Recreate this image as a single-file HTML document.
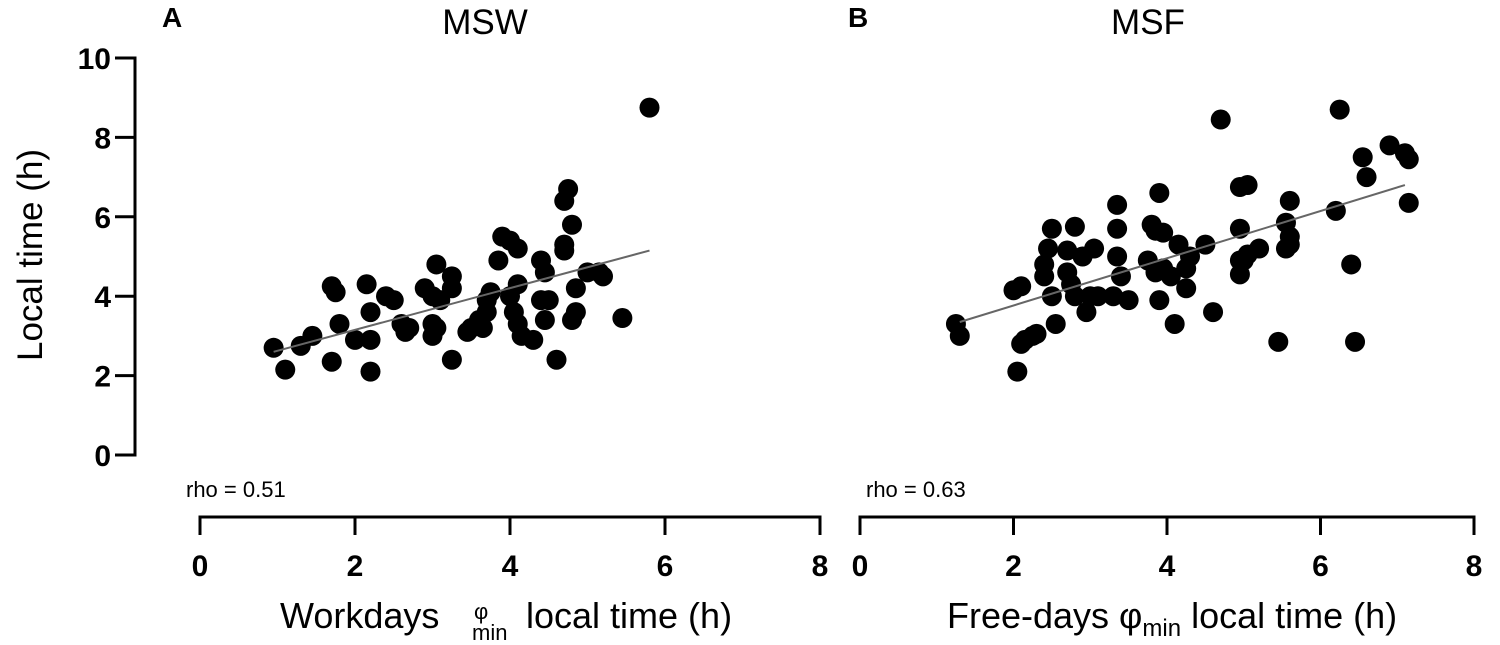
<!DOCTYPE html>
<html><head><meta charset="utf-8"><style>
body{margin:0;background:#fff;}
svg{display:block;font-family:"Liberation Sans",Arial,sans-serif;}
</style></head><body>
<svg id="c" width="1500" height="645">
<text x="162" y="27" font-size="28" font-weight="bold">A</text>
<text x="485" y="34" font-size="35" text-anchor="middle">MSW</text>
<text x="848" y="27" font-size="28" font-weight="bold">B</text>
<text x="1148" y="34" font-size="35" text-anchor="middle">MSF</text>
<text transform="translate(42,255) rotate(-90)" font-size="35" text-anchor="middle">Local time (h)</text>
<text x="186" y="497" font-size="22">rho = 0.51</text>
<text x="866" y="497" font-size="22">rho = 0.63</text>
<g>
<text x="280" y="628" font-size="36">Workdays</text>
<text x="474" y="619" font-size="22">φ</text>
<text x="472" y="640" font-size="22">min</text>
<text x="526" y="628" font-size="36">local time (h)</text>
</g>
<text x="947" y="628" font-size="36">Free-days φ<tspan font-size="24" dy="8">min</tspan><tspan dy="-8"> local time (h)</tspan></text>
<g id="g"></g>
</svg>
<script>
const yTicks=[0,2,4,6,8,10];
const xTicks=[0,2,4,6,8];
const aX=[0.95,1.1,1.3,1.45,1.7,1.75,1.7,1.8,2.0,2.15,2.2,2.2,2.2,2.4,2.5,2.6,2.65,2.7,2.9,3.0,3.05,3.0,3.0,3.05,3.1,3.25,3.25,3.25,3.45,3.5,3.6,3.7,3.7,3.75,3.65,3.85,3.9,4.0,4.1,4.0,4.1,4.05,4.1,4.15,4.3,4.4,4.45,4.4,4.5,4.45,4.6,4.7,4.7,4.8,4.7,4.75,4.85,4.8,4.85,5.0,5.15,5.2,5.45,5.8];
const aY=[2.7,2.15,2.75,3.0,4.25,4.1,2.35,3.3,2.9,4.3,3.6,2.1,2.9,4.0,3.9,3.3,3.1,3.2,4.2,4.0,4.8,3.3,3.0,3.2,3.9,4.5,4.2,2.4,3.1,3.2,3.4,3.6,3.9,4.1,3.2,4.9,5.5,5.4,5.2,4.0,4.3,3.6,3.3,3.0,2.9,4.9,4.6,3.9,3.9,3.4,2.4,5.3,5.15,5.8,6.4,6.7,3.6,3.4,4.2,4.6,4.6,4.5,3.45,8.75];
const bX=[1.25,1.3,2.05,2.0,2.1,2.1,2.15,2.25,2.3,2.4,2.4,2.45,2.5,2.55,2.5,2.7,2.75,2.7,2.8,2.8,2.9,2.95,3.0,3.05,3.1,3.35,3.35,3.35,3.4,3.3,3.5,3.8,3.85,3.9,3.95,3.75,3.85,3.9,3.95,4.05,4.1,4.15,4.25,4.25,4.3,4.5,4.6,4.7,4.95,5.05,4.95,4.95,4.95,5.0,5.2,5.05,5.45,5.6,5.55,5.6,5.6,5.55,6.2,6.25,6.4,6.45,6.55,6.6,6.9,7.1,7.15,7.15];
const bY=[3.3,3.0,2.1,4.15,4.25,2.8,2.9,3.0,3.05,4.5,4.8,5.2,5.7,3.3,4.0,4.6,4.3,5.15,5.75,4.0,5.0,3.6,4.0,5.2,4.0,6.3,5.7,5.0,4.5,4.0,3.9,5.8,5.65,6.6,5.6,4.9,4.6,3.9,4.7,4.5,3.3,5.3,4.2,4.7,5.0,5.3,3.6,8.45,6.75,6.8,5.7,4.9,4.55,4.9,5.2,5.05,2.85,6.4,5.85,5.5,5.3,5.2,6.15,8.7,4.8,2.85,7.5,7.0,7.8,7.6,7.45,6.35];
const fitA=[[0.95,2.6],[5.8,5.15]];
const fitB=[[1.3,3.35],[7.1,6.8]];
const NS='http://www.w3.org/2000/svg', g=document.getElementById('g');
const y=v=>455-v*39.7;
const xa=v=>200+v*77.5, xb=v=>860+v*76.75;
function el(t,a,txt){const e=document.createElementNS(NS,t);for(const k in a)e.setAttribute(k,a[k]);if(txt!=null)e.textContent=txt;g.appendChild(e);return e;}
const AX=135;
let e=el('line',{x1:AX,x2:AX,y1:y(10)-1.5,y2:y(0)+1.5,stroke:'#000','stroke-width':3});


yTicks.forEach(t=>{
 let l=el('line',{x1:AX-20,x2:AX,y1:y(t),y2:y(t),stroke:'#000','stroke-width':3});
 
 
 let s=el('text',{x:AX-24,y:y(t)+11,'font-size':30,'font-weight':'bold','text-anchor':'end'},t);
 
 
});
[[xa,'a'],[xb,'b']].forEach(([X,p])=>{
 let ax=el('line',{x1:X(0)-1.5,x2:X(8)+1.5,y1:517,y2:517,stroke:'#000','stroke-width':3});
 
 
 xTicks.forEach(t=>{
  let l=el('line',{x1:X(t),x2:X(t),y1:517,y2:535,stroke:'#000','stroke-width':3});
  
  
  let s=el('text',{x:X(t),y:576,'font-size':30,'font-weight':'bold','text-anchor':'middle'},t);
  
  
 });
});
[[aX,aY,xa,fitA,'a'],[bX,bY,xb,fitB,'b']].forEach(([XS,YS,X,f,p])=>{
 XS.forEach((v,i)=>{
  let c=el('circle',{cx:X(v),cy:y(YS[i]),r:10,fill:'#000'});
  
  
 });
 let l=el('line',{x1:X(f[0][0]),y1:y(f[0][1]),x2:X(f[1][0]),y2:y(f[1][1]),stroke:'#666','stroke-width':2});
 
 
});
</script>
</body></html>
